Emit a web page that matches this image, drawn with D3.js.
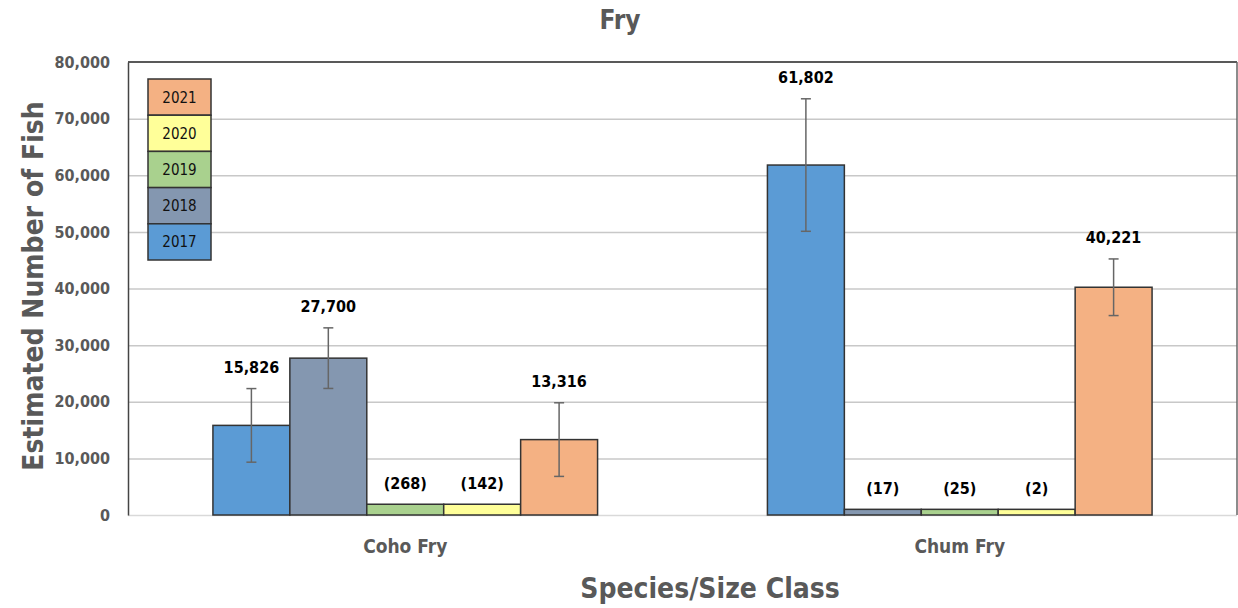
<!DOCTYPE html>
<html>
<head>
<meta charset="utf-8">
<script src="https://cdn.jsdelivr.net/npm/d3@7"></script>
<style>
  html, body { margin: 0; padding: 0; background: #fff; }
  svg { display: block; }
  text { font-family: "Liberation Sans Narrow", "DejaVu Sans Condensed", "Liberation Sans", sans-serif; }
</style>
</head>
<body>
<svg id="chart" width="1238" height="608"></svg>
<script>
// ---- data ----
const categories = ["Coho Fry", "Chum Fry"];
const years = ["2017", "2018", "2019", "2020", "2021"];
const barValues2017 = [15826, 61802];
const barValues2018 = [27700, 1000];
const barValues2019 = [1900, 1000];
const barValues2020 = [1900, 1000];
const barValues2021 = [13316, 40221];
const labels2017 = ["15,826", "61,802"];
const labels2018 = ["27,700", "(17)"];
const labels2019 = ["(268)", "(25)"];
const labels2020 = ["(142)", "(2)"];
const labels2021 = ["13,316", "40,221"];
const errors2017 = [6500, 11700];
const errors2018 = [5350, 0];
const errors2019 = [0, 0];
const errors2020 = [0, 0];
const errors2021 = [6500, 5000];
const yTicks = [0, 10000, 20000, 30000, 40000, 50000, 60000, 70000, 80000];
const colors = ["#5B9BD5", "#8497B0", "#A9D18E", "#FFFF99", "#F4B183"];

const seriesValues = [barValues2017, barValues2018, barValues2019, barValues2020, barValues2021];
const seriesLabels = [labels2017, labels2018, labels2019, labels2020, labels2021];
const seriesErrors = [errors2017, errors2018, errors2019, errors2020, errors2021];

const rows = [];
years.forEach((yr, si) => categories.forEach((c, ci) => rows.push({
  year: yr, si, cat: c, v: seriesValues[si][ci], label: seriesLabels[si][ci], err: seriesErrors[si][ci]
})));

// ---- layout ----
const pL = 128, pR = 1237, pT = 62, pB = 515;
const svg = d3.select("#chart");
const grey = "#595959";

const y = d3.scaleLinear().domain([0, 80000]).range([pB, pT]);
const x0 = d3.scaleBand().domain(categories).range([pL, pR]).paddingInner(0).paddingOuter(0);
const x1 = d3.scaleBand().domain(years).range([0, x0.bandwidth()]).paddingInner(0).paddingOuter(1.104);
const color = d3.scaleOrdinal().domain(years).range(colors);

// gridlines
const yAxisGrid = d3.axisLeft(y).tickValues(yTicks.filter(t => t > 0 && t < 80000)).tickSize(-(pR - pL)).tickFormat("");
svg.append("g").attr("transform", `translate(${pL},0)`).call(yAxisGrid)
  .call(g => g.select(".domain").remove())
  .call(g => g.selectAll("line").attr("stroke", "#C8C8C8").attr("stroke-width", 1.5));

// x-axis baseline
svg.append("line").attr("x1", pL).attr("x2", pR).attr("y1", y(0) + 0.5).attr("y2", y(0) + 0.5)
  .attr("stroke", "#D9D9D9").attr("stroke-width", 1.5);
// top border, right border
svg.append("line").attr("x1", pL).attr("x2", pR).attr("y1", pT).attr("y2", pT)
  .attr("stroke", "#222").attr("stroke-width", 1.5);
svg.append("line").attr("x1", pR).attr("x2", pR).attr("y1", pT).attr("y2", pB)
  .attr("stroke", "#666").attr("stroke-width", 1.5);

// y axis
const yAxis = d3.axisLeft(y).tickValues(yTicks).tickSize(0).tickPadding(18).tickFormat(d3.format(","));
svg.append("g").attr("transform", `translate(${pL},0)`).call(yAxis)
  .call(g => g.select(".domain").attr("stroke", "#444").attr("stroke-width", 1.5))
  .call(g => g.selectAll("text").attr("fill", grey).attr("font-size", 16).attr("font-weight", "bold")
    .attr("font-family", "'Liberation Sans Narrow', 'DejaVu Sans Condensed', sans-serif"));

// bars
const groups = svg.append("g").selectAll("g").data(rows).join("g")
  .attr("transform", d => `translate(${x0(d.cat)},0)`);
groups.append("rect")
  .attr("x", d => x1(d.year))
  .attr("y", d => y(d.v))
  .attr("width", x1.bandwidth())
  .attr("height", d => y(0) - y(d.v))
  .attr("fill", d => color(d.year))
  .attr("stroke", "#333").attr("stroke-width", 1.5);

// error bars
const eb = groups.filter(d => d.err > 0);
const cx = d => x1(d.year) + x1.bandwidth() / 2;
eb.append("line").attr("x1", cx).attr("x2", cx)
  .attr("y1", d => y(d.v + d.err)).attr("y2", d => y(d.v - d.err))
  .attr("stroke", "#666").attr("stroke-width", 1.5);
eb.append("line").attr("x1", d => cx(d) - 5).attr("x2", d => cx(d) + 5)
  .attr("y1", d => y(d.v + d.err)).attr("y2", d => y(d.v + d.err))
  .attr("stroke", "#666").attr("stroke-width", 1.5);
eb.append("line").attr("x1", d => cx(d) - 5).attr("x2", d => cx(d) + 5)
  .attr("y1", d => y(d.v - d.err)).attr("y2", d => y(d.v - d.err))
  .attr("stroke", "#666").attr("stroke-width", 1.5);

// data labels
groups.append("text")
  .attr("x", cx)
  .attr("y", d => y(d.v + d.err) - 20)
  .attr("text-anchor", "middle").attr("dominant-baseline", "middle")
  .attr("font-size", 16).attr("font-weight", "bold").attr("fill", "#000")
  .text(d => d.label);

// category labels
svg.append("g").selectAll("text").data(categories).join("text")
  .attr("x", d => x0(d) + x0.bandwidth() / 2).attr("y", 547)
  .attr("text-anchor", "middle").attr("dominant-baseline", "middle")
  .attr("font-size", 19).attr("font-weight", "bold").attr("fill", grey)
  .text(d => d);

// titles
svg.append("text").attr("x", 620).attr("y", 21).attr("text-anchor", "middle").attr("dominant-baseline", "middle")
  .attr("font-size", 26).attr("font-weight", "bold").attr("fill", grey).text("Fry");
svg.append("text").attr("x", 710).attr("y", 590).attr("text-anchor", "middle").attr("dominant-baseline", "middle")
  .attr("font-size", 28).attr("font-weight", "bold").attr("fill", grey).text("Species/Size Class");
svg.append("text").attr("transform", "translate(35,286) rotate(-90)").attr("text-anchor", "middle").attr("dominant-baseline", "middle")
  .attr("font-size", 28).attr("font-weight", "bold").attr("fill", grey).text("Estimated Number of Fish");

// legend (stacked, 2021 on top)
const legX = 148, legY = 79, legW = 63, legH = 36.2;
const legOrder = years.slice().reverse();
const leg = svg.append("g").selectAll("g").data(legOrder).join("g")
  .attr("transform", (d, i) => `translate(${legX},${legY + i * legH})`);
leg.append("rect").attr("width", legW).attr("height", legH)
  .attr("fill", d => color(d)).attr("stroke", "#333").attr("stroke-width", 1.5);
leg.append("text").attr("x", legW / 2).attr("y", legH / 2 + 1)
  .attr("text-anchor", "middle").attr("dominant-baseline", "middle")
  .attr("font-size", 15).attr("fill", "#111")
  .text(d => d);
</script>
</body>
</html>
